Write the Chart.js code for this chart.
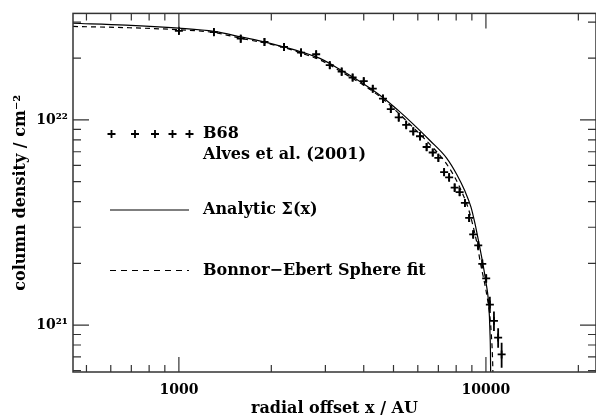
<!DOCTYPE html>
<html>
<head>
<meta charset="utf-8">
<script src="https://cdn.jsdelivr.net/npm/chart.js@4.4.0/dist/chart.umd.min.js"></script>
<style>
  body { margin: 0; background: #fff; }
  #wrap { width: 596px; height: 415px; }
</style>
</head>
<body>
<div id="wrap"><canvas id="myChart"></canvas></div>
<script>
// B68 column density profile (Alves et al. 2001)
const b68X = [1000, 1300, 1590, 1900, 2200, 2500, 2800, 3100, 3390, 3680, 4000, 4280,
  4620, 4900, 5200, 5500, 5800, 6100, 6410, 6710, 7000, 7310, 7590, 7910, 8210, 8540,
  8820, 9090, 9440, 9730, 10020, 10300, 10620, 10960, 11250];
const b68Y = [2.72e22, 2.68e22, 2.49e22, 2.40e22, 2.27e22, 2.13e22, 2.09e22, 1.85e22,
  1.72e22, 1.61e22, 1.545e22, 1.42e22, 1.27e22, 1.13e22, 1.03e22, 9.47e21, 8.80e21,
  8.33e21, 7.38e21, 6.94e21, 6.54e21, 5.57e21, 5.25e21, 4.68e21, 4.45e21, 3.94e21,
  3.33e21, 2.77e21, 2.45e21, 1.99e21, 1.69e21, 1.26e21, 1.05e21, 8.7e20, 7.2e20];
const b68Err = [1.2e21, 1.2e21, 1.1e21, 1.1e21, 1.0e21, 1.0e21, 0.9e21, 0.8e21, 0.8e21,
  0.7e21, 0.7e21, 0.6e21, 0.6e21, 0.5e21, 0.5e21, 4.5e20, 4.0e20, 4.0e20, 3.5e20, 3.0e20,
  3.0e20, 2.5e20, 2.5e20, 2.2e20, 2.0e20, 1.8e20, 1.5e20, 1.3e20, 1.2e20, 1.0e20, 0.8e20,
  1.15e20, 1.15e20, 0.95e20, 1.0e20];

// Analytic Sigma(x)
const analyticX = [452, 672, 1000, 1300, 1592, 1892, 2214, 2497, 2879, 3371, 3977, 4617,
  5169, 5784, 6570, 7447, 8045, 8543, 8935, 9210, 9489, 9799, 10000, 10174, 10266, 10305,
  10344, 10360, 10365];
const analyticY = [2.96e22, 2.90e22, 2.80e22, 2.70e22, 2.54e22, 2.40e22, 2.26e22, 2.15e22,
  1.995e22, 1.75e22, 1.505e22, 1.287e22, 1.116e22, 9.57e21, 7.94e21, 6.52e21, 5.41e21,
  4.50e21, 3.77e21, 3.13e21, 2.51e21, 1.95e21, 1.62e21, 1.35e21, 1.10e21, 9.36e20,
  7.52e20, 5.9e20, 5.0e20];

// Bonnor-Ebert sphere fit
const beX = [452, 672, 1000, 1300, 1592, 1892, 2214, 2497, 2879, 3371, 3977, 4617, 5169,
  5784, 6570, 7325, 7925, 8385, 8770, 9036, 9348, 9632, 9888, 10113, 10305, 10421, 10500,
  10540, 10550];
const beY = [2.856e22, 2.818e22, 2.751e22, 2.668e22, 2.498e22, 2.378e22, 2.251e22, 2.12e22,
  1.963e22, 1.721e22, 1.484e22, 1.266e22, 1.086e22, 9.21e21, 7.60e21, 6.31e21, 5.24e21,
  4.39e21, 3.69e21, 3.13e21, 2.51e21, 1.95e21, 1.62e21, 1.345e21, 1.104e21, 8.86e20,
  7.12e20, 5.72e20, 5.0e20];

const xMajor = [1000, 10000];
const xMajorLabels = ["1000", "10000"];
const xMinor = [500, 600, 700, 800, 900, 2000, 3000, 4000, 5000, 6000, 7000, 8000, 9000, 20000];
const yMajor = [1e21, 1e22];
const yMajorLabels = ["10²¹", "10²²"];
const yMinor = [6e20, 7e20, 8e20, 9e20, 2e21, 3e21, 4e21, 5e21, 6e21, 7e21, 8e21, 9e21, 2e22, 3e22];

const toPoints = (xs, ys) => xs.map((v, i) => ({ x: v, y: ys[i] }));

const serif = "DejaVu Serif";

const errorBars = {
  id: "errorBars",
  afterDatasetsDraw(chart) {
    const { ctx, scales: { x, y }, chartArea: a } = chart;
    ctx.save();
    ctx.beginPath();
    ctx.rect(a.left, a.top, a.right - a.left, a.bottom - a.top);
    ctx.clip();
    ctx.strokeStyle = "#000";
    ctx.lineWidth = 1.8;
    ctx.beginPath();
    b68X.forEach((xv, i) => {
      const px = x.getPixelForValue(xv);
      ctx.moveTo(px, y.getPixelForValue(b68Y[i] + b68Err[i]));
      ctx.lineTo(px, y.getPixelForValue(b68Y[i] - b68Err[i]));
    });
    ctx.stroke();
    ctx.restore();
  },
};

const frame = {
  id: "frame",
  afterDraw(chart) {
    const { ctx, chartArea: a, scales: { x, y } } = chart;
    ctx.save();
    ctx.strokeStyle = "#333";
    ctx.lineWidth = 1.5;
    ctx.strokeRect(a.left, a.top, a.right - a.left, a.bottom - a.top);
    ctx.lineWidth = 1.2;
    ctx.beginPath();
    const xt = (v, len) => {
      const px = x.getPixelForValue(v);
      ctx.moveTo(px, a.bottom); ctx.lineTo(px, a.bottom - len);
      ctx.moveTo(px, a.top); ctx.lineTo(px, a.top + len);
    };
    const yt = (v, len) => {
      const py = y.getPixelForValue(v);
      ctx.moveTo(a.left, py); ctx.lineTo(a.left + len, py);
      ctx.moveTo(a.right, py); ctx.lineTo(a.right - len, py);
    };
    xMajor.forEach((v) => xt(v, 15));
    xMinor.forEach((v) => xt(v, 7));
    yMajor.forEach((v) => yt(v, 16));
    yMinor.forEach((v) => yt(v, 8));
    ctx.stroke();

    // legend
    ctx.strokeStyle = "#000";
    ctx.lineWidth = 1.8;
    ctx.beginPath();
    [111.5, 135, 155, 172.5, 189.5].forEach((cx) => {
      ctx.moveTo(cx - 4, 134); ctx.lineTo(cx + 4, 134);
      ctx.moveTo(cx, 130); ctx.lineTo(cx, 138);
    });
    ctx.stroke();
    ctx.lineWidth = 1.2;
    ctx.beginPath();
    ctx.moveTo(110, 210); ctx.lineTo(189, 210);
    ctx.stroke();
    ctx.setLineDash([6, 5]);
    ctx.beginPath();
    ctx.moveTo(110, 270.5); ctx.lineTo(189, 270.5);
    ctx.stroke();
    ctx.setLineDash([]);
    ctx.fillStyle = "#000";
    ctx.font = "bold 16px '" + serif + "'";
    ctx.textBaseline = "middle";
    ctx.fillText("B68", 203, 134);
    ctx.fillText("Alves et al. (2001)", 203, 155);
    ctx.fillText("Analytic Σ(x)", 203, 210);
    ctx.fillText("Bonnor−Ebert Sphere fit", 203, 271);
    ctx.restore();
  },
};

const ctx = document.getElementById("myChart").getContext("2d");
const myChart = new Chart(ctx, {
  type: "scatter",
  data: {
    datasets: [
      {
        label: "Analytic Σ(x)",
        data: toPoints(analyticX, analyticY),
        showLine: true,
        cubicInterpolationMode: "monotone",
        borderColor: "#000",
        borderWidth: 1.2,
        pointRadius: 0,
      },
      {
        label: "Bonnor-Ebert Sphere fit",
        data: toPoints(beX, beY),
        showLine: true,
        cubicInterpolationMode: "monotone",
        borderColor: "#000",
        borderWidth: 1.2,
        borderDash: [5, 4],
        pointRadius: 0,
      },
      {
        label: "B68",
        data: toPoints(b68X, b68Y),
        pointStyle: "cross",
        pointRadius: 4,
        borderColor: "#000",
        borderWidth: 1.8,
      },
    ],
  },
  options: {
    animation: false,
    responsive: true,
    maintainAspectRatio: false,
    layout: { autoPadding: false, padding: { top: 5, right: 0, left: 0, bottom: 0 } },
    plugins: { legend: { display: false }, tooltip: { enabled: false } },
    scales: {
      x: {
        type: "logarithmic",
        min: 452,
        max: 22830,
        grid: { display: false, drawTicks: false },
        border: { display: false },
        afterBuildTicks: (scale) => { scale.ticks = xMajor.map((v) => ({ value: v })); },
        afterFit: (scale) => { scale.height = 43; },
        ticks: {
          autoSkip: false,
          maxRotation: 0,
          padding: 10,
          color: "#000",
          font: { family: serif, size: 14, weight: "bold" },
          callback: (v) => xMajorLabels[xMajor.indexOf(v)] || "",
        },
        title: {
          display: true,
          text: "radial offset x / AU",
          color: "#000",
          padding: { top: 0, bottom: -3 },
          font: { family: serif, size: 16, weight: "bold" },
        },
      },
      y: {
        type: "logarithmic",
        min: 5.91e20,
        max: 3.306e22,
        grid: { display: false, drawTicks: false },
        border: { display: false },
        afterBuildTicks: (scale) => { scale.ticks = yMajor.map((v) => ({ value: v })); },
        afterFit: (scale) => { scale.width = 73; },
        ticks: {
          autoSkip: false,
          padding: 5,
          color: "#000",
          font: { family: serif, size: 14, weight: "bold" },
          callback: (v) => yMajorLabels[yMajor.indexOf(v)] || "",
        },
        title: {
          display: true,
          text: "column density / cm⁻²",
          color: "#000",
          padding: { top: 11, bottom: 0 },
          font: { family: serif, size: 16, weight: "bold" },
        },
      },
    },
  },
  plugins: [errorBars, frame],
});
</script>
</body>
</html>
